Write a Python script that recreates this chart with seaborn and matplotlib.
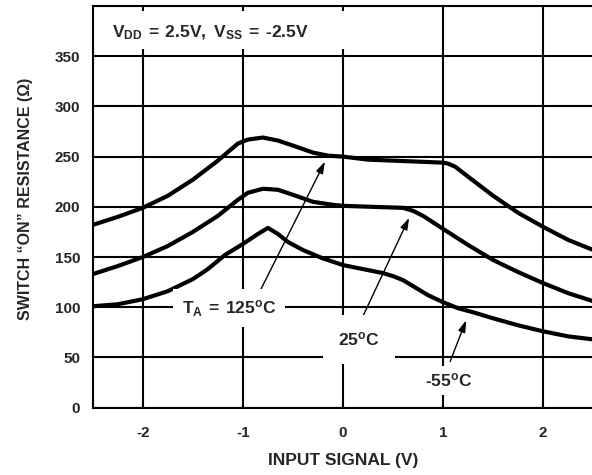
import matplotlib
matplotlib.use("Agg")
import matplotlib.pyplot as plt
from matplotlib.patches import Rectangle
import seaborn as sns

# values
x_125 = [-2.5, -2.25, -2.0, -1.75, -1.5, -1.25, -1.05, -0.95, -0.8, -0.65, -0.5, -0.3, -0.15, 0.0,
         0.25, 0.5, 0.75, 1.0, 1.05, 1.12, 1.25, 1.5, 1.75, 2.0, 2.25, 2.5]
r_125 = [182, 190, 199, 211, 227, 246, 263, 267, 269, 266, 261, 254, 251, 250,
         247, 246, 245, 244, 243, 240, 230, 211, 194, 180, 167, 157]

x_25 = [-2.5, -2.25, -2.0, -1.75, -1.5, -1.25, -1.05, -0.95, -0.8, -0.65, -0.5, -0.3, -0.1, 0.0,
        0.3, 0.6, 0.7, 0.8, 1.0, 1.25, 1.5, 1.75, 2.0, 2.25, 2.5]
r_25 = [133, 141, 150, 161, 175, 191, 207, 214, 218, 217, 212, 205, 202, 201,
        200, 199, 196, 191, 178, 162, 147, 135, 124, 114, 106]

x_m55 = [-2.5, -2.25, -2.0, -1.75, -1.5, -1.35, -1.18, -1.0, -0.85, -0.75, -0.65, -0.55, -0.4, -0.21, 0.0,
         0.2, 0.4, 0.5, 0.6, 0.7, 0.85, 1.0, 1.15, 1.3, 1.5, 1.75, 2.0, 2.25, 2.5]
r_m55 = [101, 103, 108, 116, 128, 138, 152, 163, 173, 179, 173, 165, 157, 149, 142,
         138, 134, 131, 127, 121, 112, 105, 99, 95, 89, 82, 76, 71, 68]

x_ticks = [-2, -1, 0, 1, 2]
y_ticks = [0, 50, 100, 150, 200, 250, 300, 350]

sns.set_style("white")
plt.rcParams["font.family"] = ["Liberation Sans", "DejaVu Sans"]
plt.rcParams["font.weight"] = "bold"
plt.rcParams["mathtext.fontset"] = "custom"
plt.rcParams["mathtext.rm"] = "Liberation Sans:bold"
plt.rcParams["mathtext.bf"] = "Liberation Sans:bold"
plt.rcParams["mathtext.it"] = "Liberation Sans:bold"
plt.rcParams["mathtext.default"] = "bf"

fig = plt.figure(figsize=(5.92, 4.75), dpi=100)
ax = fig.add_axes([0.1566, 0.1417, 0.8456, 0.8457])

for xs, ys in [(x_125, r_125), (x_25, r_25), (x_m55, r_m55)]:
    sns.lineplot(x=xs, y=ys, ax=ax, color="black", linewidth=3, sort=False,
                 estimator=None, solid_joinstyle="round", solid_capstyle="butt", zorder=2)

ax.set_xlim(-2.5, 2.5)
ax.set_ylim(0, 400)
ax.set_xticks(x_ticks)
ax.set_yticks(y_ticks)
ax.set_xticklabels([str(t) for t in x_ticks], fontsize=11, fontweight="bold")
ax.set_yticklabels([str(t) for t in y_ticks], fontsize=11, fontweight="bold")
ax.tick_params(axis="both", length=0)
ax.tick_params(axis="x", pad=13)
ax.tick_params(axis="y", pad=9)
ax.set_axisbelow(True)
ax.grid(True, color="black", linewidth=1.5)
for s in ax.spines.values():
    s.set_color("black")
    s.set_linewidth(1.5)

ax.set_xlabel("INPUT SIGNAL (V)", fontsize=12.5, fontweight="bold")
ax.xaxis.set_label_coords(0.5, -0.113)
ax.set_ylabel("SWITCH \u201cON\u201d RESISTANCE (\u03a9)", fontsize=11.5, fontweight="bold")
ax.yaxis.set_label_coords(-0.12, 0.52)

# supply box at the top left
ax.add_patch(Rectangle((-2.49, 357), 2.57, 38, facecolor="white", edgecolor="none", zorder=2.5))
ax.text(-2.31, 373, r"$\mathbf{V_{DD}\:=\:2.5V,\ V_{SS}\:=\:\text{-}2.5V}$", fontsize=12.5,
        ha="left", va="center", zorder=3)

arrow = dict(arrowstyle="-|>,head_length=0.7,head_width=0.22", color="black", lw=1, shrinkA=0, shrinkB=0)

ax.annotate("", xy=(-0.18, 245), xytext=(-0.85, 112), arrowprops=arrow, zorder=3)
ax.text(-1.14, 99, r"$\mathbf{T_A\:=\:125^o C}$", fontsize=12.5,
        ha="center", va="center",
        bbox=dict(facecolor="white", edgecolor="none", boxstyle="square,pad=0.5"), zorder=3)

ax.annotate("", xy=(0.66, 189), xytext=(0.18, 87), arrowprops=arrow, zorder=3)
ax.text(0.16, 68, r"$\mathbf{25^o C}$", fontsize=12.5,
        ha="center", va="center",
        bbox=dict(facecolor="white", edgecolor="none", boxstyle="square,pad=0.9"), zorder=3)

ax.annotate("", xy=(1.23, 87), xytext=(1.07, 46), arrowprops=arrow, zorder=3)
ax.text(1.05, 27, r"$\mathbf{\text{-}55^o C}$", fontsize=12.5,
        ha="center", va="center",
        bbox=dict(facecolor="white", edgecolor="none", boxstyle="square,pad=0.3"), zorder=3)

fig.savefig("out.png", dpi=100)
